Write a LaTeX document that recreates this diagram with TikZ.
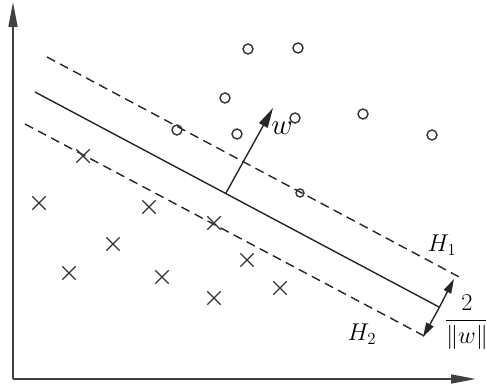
\documentclass[tikz,border=0pt]{standalone}
\usepackage{tikz}
\usetikzlibrary{arrows.meta,shapes.misc,positioning,calc}

\begin{document}
\begin{tikzpicture}[
    x=0.025cm, y=-0.025cm,
    axis/.style={draw=black!75, line width=1.4pt, -{Triangle[length=0.62cm, width=0.22cm]}},
    plane/.style={draw=black!85, line width=1pt},
    marginplane/.style={plane, dash pattern=on 6.5pt off 4pt},
    normalarrow/.style={draw=black!85, line width=1pt, -{Triangle[length=0.5cm, width=0.24cm]}},
    gaparrow/.style={draw=black!85, line width=1pt, -{Triangle[length=0.36cm, width=0.2cm]}},
    posnode/.style={circle, draw=black!80, line width=1pt, inner sep=0pt, minimum size=0.25cm},
    negnode/.style={cross out, draw=black!80, line width=1pt, inner sep=0pt, minimum size=0.3cm},
    planelabel/.style={font=\LARGE, inner sep=0pt}
]
    \useasboundingbox (0,0) rectangle (486,385);

    % axes
    \coordinate (origin) at (13,379);
    \coordinate (ytip) at (13,2);
    \coordinate (xtip) at (476,379);
    \draw[axis] (origin) -- (ytip);
    \draw[axis] (origin) -- (xtip);

    % separating plane and margins
    \coordinate (h1start) at (47,57);
    \coordinate (h1end) at (463,279);
    \coordinate (hstart) at (35,92);
    \coordinate (hend) at (439,307);
    \coordinate (h2start) at (25,124);
    \coordinate (h2end) at (428,338);
    \draw[marginplane] (h1start) -- (h1end);
    \draw[plane] (hstart) -- (hend);
    \draw[marginplane] (h2start) -- (h2end);

    % normal vector
    \coordinate (wbase) at (226,193);
    \coordinate (wtip) at (273,108);
    \draw[normalarrow] (wbase) -- (wtip);
    \node[font=\huge, inner sep=0pt] (wlabel) at (282,128) {$w$};

    % margin width
    \coordinate (gapmid) at (439,308);
    \coordinate (gapup) at (454,279);
    \coordinate (gapdown) at (423,337);
    \draw[gaparrow] (gapmid) -- (gapup);
    \draw[gaparrow] (gapmid) -- (gapdown);
    \node[font=\LARGE, inner sep=0pt] (gaplabel) at (467,322) {$\displaystyle\frac{2}{\|w\|}$};

    \node[planelabel] (h1label) at (442,245) {$H_1$};
    \node[planelabel] (h2label) at (362,334) {$H_2$};

    % samples
    \foreach \px/\py [count=\i] in {248/49, 298/48, 225/98, 177/130, 237/134, 295/118, 363/114, 432/135}
        \node[posnode] (pos\i) at (\px,\py) {};
    \node[posnode, minimum size=0.2cm] (pos9) at (300,193) {};
    \foreach \px/\py [count=\i] in {83/156, 39/203, 149/207, 214/223, 113/244, 247/260, 69/273, 162/277, 280/288, 214/298}
        \node[negnode] (neg\i) at (\px,\py) {};
\end{tikzpicture}
\end{document}
